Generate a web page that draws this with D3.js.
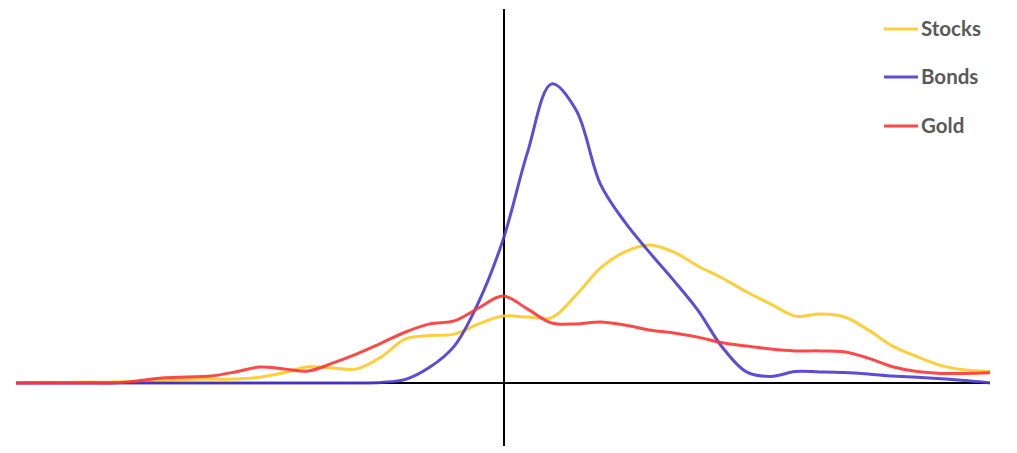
<!DOCTYPE html>
<html>
<head>
<meta charset="utf-8">
<script src="https://cdn.jsdelivr.net/npm/d3@7"></script>
<style>
  html, body { margin: 0; padding: 0; background: #fff; }
  svg { display: block; }
</style>
</head>
<body>
<svg id="chart" width="1017" height="453"></svg>
<script>
// x positions (return buckets), shared by all series
const xValues = d3.range(-20, 21);
const seriesNames = ["Stocks", "Bonds", "Gold"];
const stocks = [0, 0.02, 0.02, 0.03, 0.03, 0.07, 0.1, 0.12, 0.13, 0.13,
  0.19, 0.34, 0.54, 0.5, 0.47, 0.87, 1.47, 1.58, 1.63, 1.97,
  2.23, 2.2, 2.18, 2.93, 3.83, 4.37, 4.6, 4.37, 3.9, 3.5,
  3.04, 2.63, 2.23, 2.3, 2.21, 1.77, 1.23, 0.88, 0.58, 0.43, 0.38];
const bonds = [0, 0, 0, 0, 0, 0, 0, 0, 0, 0,
  0, 0, 0, 0, 0, 0.02, 0.12, 0.53, 1.23, 2.7,
  4.77, 7.67, 9.97, 9.1, 6.63, 5.37, 4.37, 3.43, 2.43, 1.2,
  0.37, 0.22, 0.38, 0.37, 0.35, 0.3, 0.23, 0.19, 0.14, 0.08, 0];
const gold = [0, 0, 0, 0, 0, 0.07, 0.17, 0.2, 0.23, 0.37,
  0.53, 0.47, 0.4, 0.66, 0.97, 1.33, 1.7, 1.97, 2.07, 2.5,
  2.9, 2.47, 2.0, 1.97, 2.03, 1.93, 1.77, 1.67, 1.53, 1.34,
  1.23, 1.13, 1.07, 1.07, 1.04, 0.83, 0.54, 0.38, 0.32, 0.32, 0.34];
const colors = ["#FFC925", "#4B39D3", "#FF3434"];

const svg = d3.select("#chart");
const x = d3.scaleLinear().domain([-20, 20]).range([16, 990]);
const y = d3.scaleLinear().domain([0, 10]).range([383, 83]);

// axes (zero lines)
svg.append("line")
  .attr("x1", x(-20)).attr("x2", x(20))
  .attr("y1", y(0)).attr("y2", y(0))
  .attr("stroke", "#000").attr("stroke-width", 2);
svg.append("line")
  .attr("x1", x(0) + 1).attr("x2", x(0) + 1)
  .attr("y1", 9).attr("y2", 446)
  .attr("stroke", "#000").attr("stroke-width", 2);

const data = [stocks, bonds, gold];
const line = d3.line()
  .x((d, i) => x(xValues[i]))
  .y(d => y(d))
  .curve(d3.curveCatmullRom.alpha(0.5));

data.forEach((vals, si) => {
  svg.append("path")
    .datum(vals)
    .attr("fill", "none")
    .attr("stroke", colors[si])
    .attr("stroke-opacity", 0.9)
    .attr("stroke-width", 3)
    .attr("stroke-linejoin", "round")
    .attr("d", line);
});

// legend
const legendY = [29, 77, 126];
seriesNames.forEach((name, i) => {
  const g = svg.append("g").attr("transform", `translate(884, ${legendY[i]})`);
  g.append("line").attr("x1", 0).attr("x2", 34).attr("y1", 0).attr("y2", 0)
    .attr("stroke", colors[i]).attr("stroke-width", 3).attr("stroke-opacity", 0.9);
  g.append("text").attr("x", 37).attr("y", 7)
    .attr("font-family", "Lato, 'Open Sans', sans-serif")
    .attr("font-weight", "bold")
    .attr("font-size", 20.5)
    .attr("fill", "#595959")
    .text(name);
});
</script>
</body>
</html>
